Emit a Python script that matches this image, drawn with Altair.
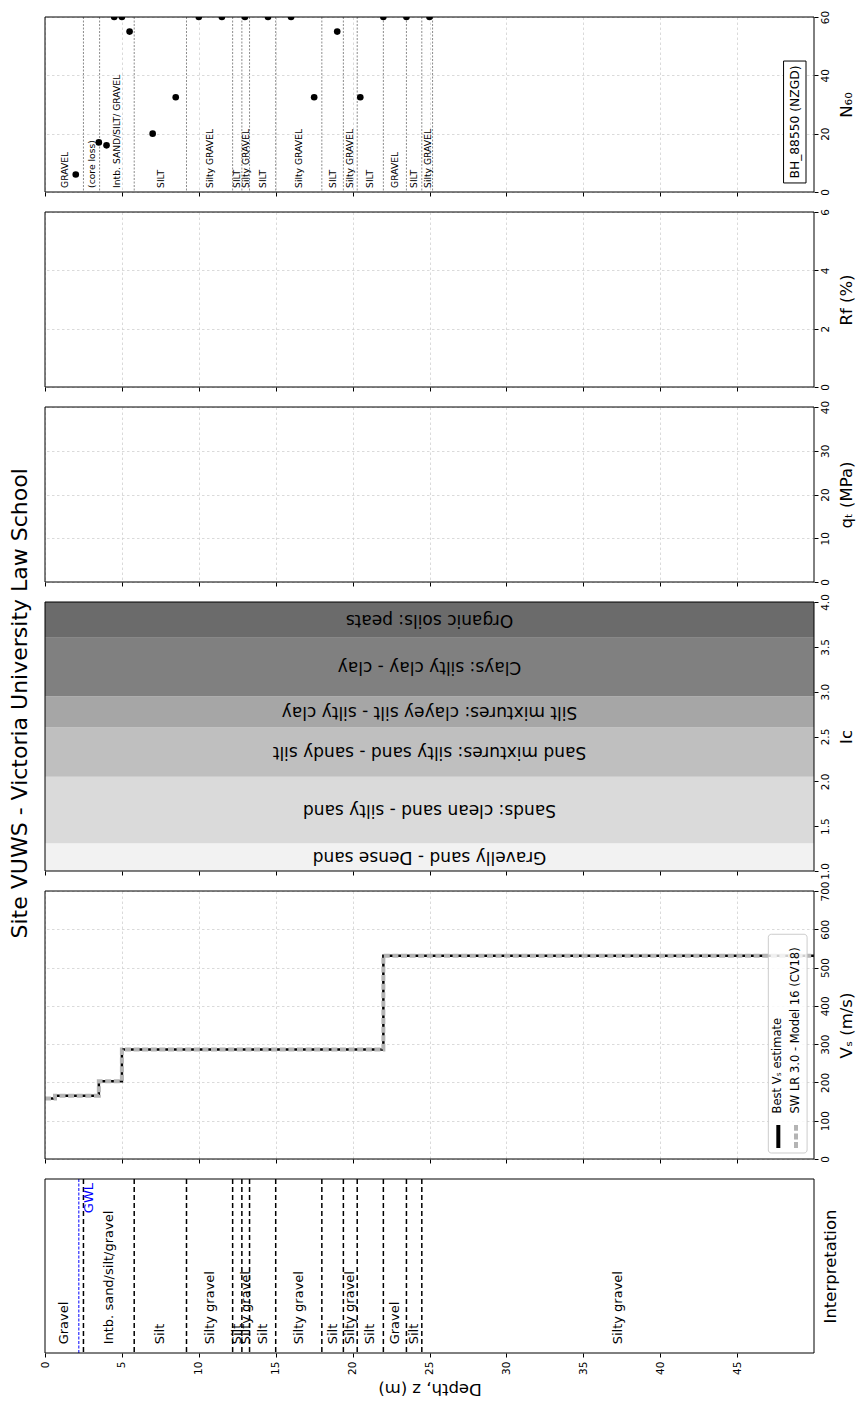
import altair as alt
import pandas as pd

FONT = "DejaVu Sans"
PANEL_W = 769

# ---------------- data ----------------
depth_domain = [0, 50]
depth_ticks = [0, 5, 10, 15, 20, 25, 30, 35, 40, 45]

# SPT N60 values
n60_depth = [2.0, 3.5, 4.0, 4.5, 5.0, 5.5, 7.0, 8.5, 10.0, 11.5, 13.0, 14.5,
             16.0, 17.5, 19.0, 20.5, 22.0, 23.5, 25.0]
n60_value = [6, 17, 16, 60, 60, 55, 20, 32.5, 60, 60, 60, 60,
             60, 32.5, 55, 32.5, 60, 60, 60]
n60_domain = [0, 60]
n60_ticks = [0, 20, 40, 60]

# borehole log layers
bh_bounds = [2.5, 3.55, 5.8, 9.2, 12.2, 12.8, 13.3, 15.0, 18.0, 19.4, 20.3,
             22.0, 23.5, 24.5, 25.2]
bh_label_depth = [1.3, 3.05, 4.7, 7.55, 10.7, 12.5, 13.1, 14.15, 16.5, 18.7,
                  19.85, 21.15, 22.75, 24.0, 24.9]
bh_labels = ["GRAVEL", "(core loss)", "Intb. SAND/SILT/ GRAVEL", "SILT",
             "Silty GRAVEL", "SILT", "Silty GRAVEL", "SILT", "Silty GRAVEL",
             "SILT", "Silty GRAVEL", "SILT", "GRAVEL", "SILT", "Silty GRAVEL"]
bh_name = ["BH_88550 (NZGD)"]

rf_domain = [0, 6]
rf_ticks = [0, 2, 4, 6]
qt_domain = [0, 40]
qt_ticks = [0, 10, 20, 30, 40]

# Ic soil behaviour zones
ic_lower = [1.0, 1.31, 2.05, 2.60, 2.95, 3.60]
ic_upper = [1.31, 2.05, 2.60, 2.95, 3.60, 4.0]
ic_names = ["Gravelly sand - Dense sand", "Sands: clean sand - silty sand",
            "Sand mixtures: silty sand - sandy silt",
            "Silt mixtures: clayey silt - silty clay",
            "Clays: silty clay - clay", "Organic soils: peats"]
ic_colors = ["#f2f2f2", "#dadada", "#bfbfbf", "#a6a6a6", "#808080", "#6b6b6b"]
ic_domain = [1, 4]
ic_ticks = [1.0, 1.5, 2.0, 2.5, 3.0, 3.5, 4.0]

# Vs profile (step)
vs_depth = [0, 0.65, 3.5, 5.0, 22.0, 50.0]
vs_best = [158, 165, 203, 286, 531, 531]
vs_swlr = [158, 165, 203, 286, 531, 531]
vs_series = ["Best Vₛ estimate", "SW LR 3.0 - Model 16 (CV18)"]
vs_domain = [0, 700]
vs_ticks = [0, 100, 200, 300, 400, 500, 600, 700]

# interpretation
interp_bounds = [2.5, 5.8, 9.2, 12.2, 12.8, 13.3, 15.0, 18.0, 19.4, 20.3,
                 22.0, 23.5, 24.5]
interp_label_depth = [1.25, 4.15, 7.5, 10.7, 12.5, 13.05, 14.15, 16.5, 18.7,
                      19.85, 21.15, 22.75, 24.0, 37.25]
interp_labels = ["Gravel", "Intb. sand/silt/gravel", "Silt", "Silty gravel",
                 "Silt", "Silty gravel", "Silt", "Silty gravel", "Silt",
                 "Silty gravel", "Silt", "Gravel", "Silt", "Silty gravel"]
gwl_depth = 2.2
interp_domain = [0, 1]

title_text = "Site VUWS - Victoria University Law School"

# ---------------- helpers ----------------
xscale = alt.Scale(domain=depth_domain, nice=False, zero=False)


def x_axis(labels=False, grid=True):
    if labels:
        return alt.Axis(values=depth_ticks, grid=grid, labels=True,
                        labelAngle=270, labelAlign="right",
                        labelBaseline="middle", labelPadding=4,
                        title="Depth, z (m)", titleAngle=180,
                        titleBaseline="bottom", titlePadding=6)
    return alt.Axis(values=depth_ticks, grid=grid, labels=False, title=None)


def y_axis(values, title, fmt=None, grid=True, labels=True):
    kw = dict(values=values, orient="right", grid=grid, labelAngle=270,
              labelAlign="center", labelBaseline="top", title=title,
              titleAngle=270, titleBaseline="top", titlePadding=8,
              labels=labels, ticks=labels)
    if fmt:
        kw["format"] = fmt
    return alt.Axis(**kw)


class Panel:
    def __init__(self, xa, ydomain, ya):
        self.xa = xa
        self.ys = alt.Scale(domain=ydomain, nice=False, zero=False)
        self.ya = ya
        self.ydomain = ydomain

    def X(self, field):
        return alt.X(field, type="quantitative", scale=xscale, axis=self.xa)

    def XD(self, v):
        return alt.XDatum(v, type="quantitative", scale=xscale, axis=self.xa)

    def Y(self, field):
        return alt.Y(field, type="quantitative", scale=self.ys, axis=self.ya)

    def YD(self, v):
        return alt.YDatum(v, type="quantitative", scale=self.ys, axis=self.ya)

    def frame(self):
        return alt.Chart(pd.DataFrame({"k": [0]})).mark_rect(
            fillOpacity=0, stroke="black", strokeWidth=1
        ).encode(x=self.XD(depth_domain[0]), x2=alt.X2Datum(depth_domain[1]),
                 y=self.YD(self.ydomain[0]), y2=alt.Y2Datum(self.ydomain[1]))


one = pd.DataFrame({"k": [0]})

# ---------------- N60 panel ----------------
P = Panel(x_axis(), n60_domain, y_axis(n60_ticks, "N₆₀"))
n60_df = pd.DataFrame({"depth": n60_depth, "n60": n60_value})
bh_line_df = pd.DataFrame({"depth": bh_bounds})
bh_text_df = pd.DataFrame({"depth": bh_label_depth, "label": bh_labels})

n60_lines = alt.Chart(bh_line_df).mark_rule(
    color="#8c8c8c", strokeDash=[2, 1.5], strokeWidth=1
).encode(x=P.X("depth"))
n60_text = alt.Chart(bh_text_df).mark_text(
    angle=270, align="left", baseline="middle", fontSize=9.2, font=FONT,
    color="black"
).encode(x=P.X("depth"), y=P.YD(1.4), text="label:N")
n60_pts = alt.Chart(n60_df).mark_circle(
    size=44, color="black", opacity=1, clip=True
).encode(x=P.X("depth"), y=P.Y("n60"))
bh_box = alt.Chart(pd.DataFrame({"name": bh_name})).mark_rect(
    fill="white", stroke="black", strokeWidth=1
).encode(x=P.XD(48.02), x2=alt.X2Datum(49.48),
         y=P.YD(3.1), y2=alt.Y2Datum(44.9))
bh_box_text = alt.Chart(pd.DataFrame({"name": bh_name})).mark_text(
    angle=270, align="center", baseline="middle", fontSize=12.3, font=FONT,
    color="black"
).encode(x=P.XD(48.75), y=P.YD(24), text="name:N")
n60_panel = alt.layer(n60_lines, n60_text, n60_pts, bh_box, bh_box_text,
                      P.frame()).properties(width=PANEL_W, height=175)

# ---------------- Rf / qt panels ----------------
P = Panel(x_axis(), rf_domain, y_axis(rf_ticks, "Rf (%)"))
rf_panel = alt.layer(P.frame()).properties(width=PANEL_W, height=175)

P = Panel(x_axis(), qt_domain, y_axis(qt_ticks, "qₜ (MPa)"))
qt_panel = alt.layer(P.frame()).properties(width=PANEL_W, height=175)

# ---------------- Ic panel ----------------
P = Panel(x_axis(grid=False), ic_domain,
          y_axis(ic_ticks, "Ic", fmt=".1f", grid=False))
ic_df = pd.DataFrame({
    "lo": ic_lower, "hi": ic_upper, "name": ic_names, "color": ic_colors,
    "d0": depth_domain[0], "d1": depth_domain[1],
})
ic_df["mid"] = (ic_df["lo"] + ic_df["hi"]) / 2
ic_df["dmid"] = (ic_df["d0"] + ic_df["d1"]) / 2

ic_rect = alt.Chart(ic_df).mark_rect().encode(
    x=P.X("d0"), x2="d1", y=P.Y("lo"), y2="hi",
    color=alt.Color("color:N", scale=None),
)
ic_text = alt.Chart(ic_df).mark_text(
    angle=180, align="center", baseline="middle", fontSize=17, font=FONT,
    color="black"
).encode(x=P.X("dmid"), y=P.Y("mid"), text="name:N")
ic_panel = alt.layer(ic_rect, ic_text, P.frame()).properties(
    width=PANEL_W, height=269)

# ---------------- Vs panel ----------------
P = Panel(x_axis(), vs_domain, y_axis(vs_ticks, "Vₛ (m/s)"))
vs_df = pd.DataFrame({
    "depth": vs_depth + vs_depth,
    "vs": vs_best + vs_swlr,
    "series": [vs_series[0]] * len(vs_depth) + [vs_series[1]] * len(vs_depth),
})
vs_black = alt.Chart(vs_df).transform_filter(
    alt.datum.series == vs_series[0]
).mark_line(interpolate="step-after", color="black", strokeWidth=2.5,
            clip=True).encode(x=P.X("depth"), y=P.Y("vs"))
vs_gray = alt.Chart(vs_df).transform_filter(
    alt.datum.series == vs_series[1]
).mark_line(interpolate="step-after", color="#b4b4b4", strokeWidth=4,
            strokeDash=[6, 2.6], clip=True).encode(x=P.X("depth"), y=P.Y("vs"))
leg_df = pd.DataFrame({"series": vs_series})
leg_box = alt.Chart(one).mark_rect(
    fill="white", fillOpacity=0.8, stroke="#cccccc", strokeWidth=1,
    cornerRadius=3
).encode(x=P.XD(47.03), x2=alt.X2Datum(49.55),
         y=P.YD(15.7), y2=alt.Y2Datum(587))
leg_sym1 = alt.Chart(one).mark_rule(color="black", strokeWidth=4).encode(
    x=P.XD(47.68), y=P.YD(28.7), y2=alt.Y2Datum(88.8))
leg_sym2 = alt.Chart(one).mark_rule(
    color="#b4b4b4", strokeWidth=4, strokeDash=[6, 2.6]
).encode(x=P.XD(48.83), y=P.YD(28.7), y2=alt.Y2Datum(88.8))
leg_txt1 = alt.Chart(leg_df).transform_filter(
    alt.datum.series == vs_series[0]).mark_text(
    angle=270, align="left", baseline="middle", fontSize=11.5, font=FONT,
    color="black"
).encode(x=P.XD(47.68), y=P.YD(119), text="series:N")
leg_txt2 = alt.Chart(leg_df).transform_filter(
    alt.datum.series == vs_series[1]).mark_text(
    angle=270, align="left", baseline="middle", fontSize=11.5, font=FONT,
    color="black"
).encode(x=P.XD(48.83), y=P.YD(119), text="series:N")
vs_panel = alt.layer(vs_black, vs_gray, leg_box, leg_sym1, leg_sym2,
                     leg_txt1, leg_txt2, P.frame()).properties(
    width=PANEL_W, height=268)

# ---------------- Interpretation panel ----------------
P = Panel(x_axis(labels=True, grid=False), interp_domain,
          y_axis([0.5], "Interpretation", grid=False, labels=False))
int_line_df = pd.DataFrame({"depth": interp_bounds})
int_text_df = pd.DataFrame({"depth": interp_label_depth, "label": interp_labels})

int_lines = alt.Chart(int_line_df).mark_rule(
    color="black", strokeDash=[5, 3], strokeWidth=1.5
).encode(x=P.X("depth"))
gwl_line = alt.Chart(pd.DataFrame({"depth": [gwl_depth]})).mark_rule(
    color="blue", strokeDash=[3, 1.5], strokeWidth=1
).encode(x=P.X("depth"))
gwl_text = alt.Chart(pd.DataFrame({"depth": [gwl_depth], "t": ["GWL"]})).mark_text(
    angle=270, align="right", baseline="middle", fontSize=13, font=FONT,
    color="blue", dx=-4, dy=10
).encode(x=P.X("depth"), y=P.YD(interp_domain[1]), text="t:N")
int_text = alt.Chart(int_text_df).mark_text(
    angle=270, align="left", baseline="middle", fontSize=13, font=FONT,
    color="black"
).encode(x=P.X("depth"), y=P.YD(0.05), text="label:N")
interp_panel = alt.layer(int_lines, gwl_line, gwl_text, int_text, P.frame()
                         ).properties(width=PANEL_W, height=174)

# ---------------- assemble ----------------
chart = alt.vconcat(
    n60_panel, rf_panel, qt_panel, ic_panel, vs_panel, interp_panel,
    spacing=20, bounds="flush",
).properties(
    title=alt.TitleParams(title_text, orient="left", anchor="middle",
                          font=FONT, fontSize=22, fontWeight="normal",
                          color="black", offset=8),
    padding={"left": 8, "top": 10, "right": 2, "bottom": 2},
).configure_view(
    stroke=None
).configure_axis(
    domain=False, tickColor="black", tickSize=4, tickWidth=1,
    labelFont=FONT, labelFontSize=10.5, labelColor="black",
    titleFont=FONT, titleFontSize=16.5, titleFontWeight="normal",
    titleColor="black", gridColor="#d0d0d0", gridDash=[2.5, 2.5],
    gridWidth=0.8,
)

chart.save("out.html", embed_options={"renderer": "svg", "actions": False})
